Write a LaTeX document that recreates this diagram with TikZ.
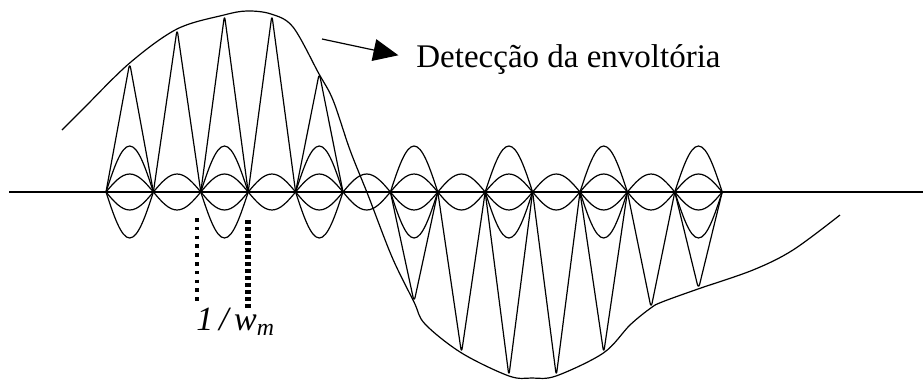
\documentclass[tikz,border=0pt]{standalone}
\usepackage{fontspec}
\setmainfont{Liberation Serif}
\usetikzlibrary{arrows.meta}

\begin{document}
\begin{tikzpicture}[x=0.5pt, y=-0.5pt,
  wave/.style={line width=0.6pt, line join=round},
  spike/.style={wave, rounded corners=2.5pt},
  axisline/.style={line width=0.8pt},
  pointer/.style={-{Triangle[length=12.5pt, width=11pt]}, line width=0.6pt},
  thindots/.style={line width=1.8pt, dash pattern=on 1.8pt off 2.6pt},
  thickdots/.style={line width=2.6pt, dash pattern=on 2pt off 1.5pt},
  lbl/.style={inner sep=0pt, anchor=base west},
]
\useasboundingbox (0,0) rectangle (923,381);

% time axis
\coordinate (ax0) at (9,192);
\coordinate (ax1) at (923,192);
\draw[axisline] (ax0) -- (ax1);

% small lobes, every half period, above and below
\foreach \k in {0,...,12} {
  \pgfmathsetmacro\xl{106+47.4*\k}
  \pgfmathsetmacro\xr{\xl+47.4}
  \pgfmathsetmacro\xc{\xl+23.7}
  \draw[wave] (\xl,192) sin (\xc,174) cos (\xr,192);
  \draw[wave] (\xl,192) sin (\xc,210) cos (\xr,192);
}

% medium lobes, every other half period
\foreach \k in {0,2,...,12} {
  \pgfmathsetmacro\xl{106+47.4*\k}
  \pgfmathsetmacro\xr{\xl+47.4}
  \pgfmathsetmacro\xc{\xl+23.7}
  \draw[wave] (\xl,192) sin (\xc,146) cos (\xr,192);
  \draw[wave] (\xl,192) sin (\xc,238) cos (\xr,192);
}

% modulated carrier (tall lobes)
\foreach \k/\yp in {0/63,1/29,2/15,3/15,4/73,6/302,7/353,8/376,9/376,10/353,11/308,12/289} {
  \pgfmathsetmacro\xl{106+47.4*\k}
  \pgfmathsetmacro\xr{\xl+47.4}
  \pgfmathsetmacro\xc{\xl+23.7}
  \draw[spike] (\xl,192) -- (\xc,\yp) -- (\xr,192);
}

% envelope
\draw[wave] plot[smooth, tension=0.55] coordinates {
  (62,130) (83,109) (129.7,63) (177,29) (224,15) (247,11) (271,14)
  (293,27) (318.5,73) (333,100) (350,150) (368,195) (392,257)
  (414,302) (425,324) (461.6,353) (509,376) (532,378) (556,376)
  (603.4,353) (630,325) (650.8,308) (662,302) (698,289) (753,270)
  (793,250) (840,215)};

% label + pointer
\node[lbl, font=\fontsize{16.5}{19}\selectfont] (txt) at (416,67) {Detecção da envoltória};
\coordinate (tail) at (322,39);
\draw[pointer, shorten >=9pt] (tail) -- (txt.west);

% period marks
\coordinate (p1a) at (197,218);
\coordinate (p1b) at (197,305);
\coordinate (p2a) at (248,220);
\coordinate (p2b) at (248,308);
\draw[thindots] (p1a) -- (p1b);
\draw[thickdots] (p2a) -- (p2b);
\node[lbl, font=\fontsize{17}{20}\selectfont\itshape] (per) at (196,330) {1\,/\,w\textsubscript{m}};
\end{tikzpicture}
\end{document}
